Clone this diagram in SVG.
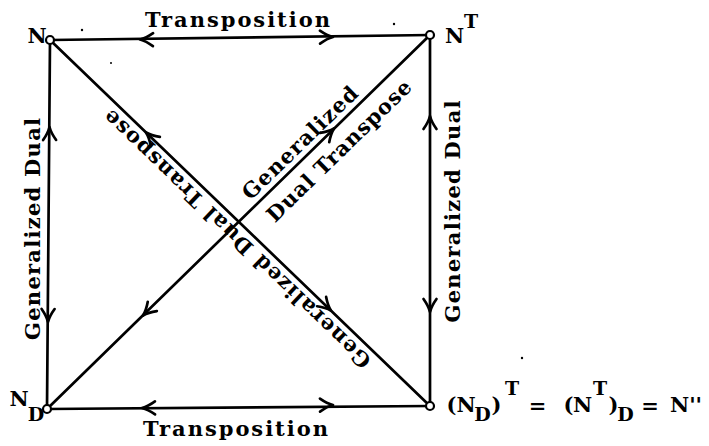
<svg xmlns="http://www.w3.org/2000/svg" width="709" height="446" viewBox="0 0 709 446">
<style>
.t{font-family:"DejaVu Serif","Liberation Serif",serif;font-weight:bold;font-size:21px;fill:#000}
.s{font-family:"DejaVu Serif","Liberation Serif",serif;font-weight:bold;font-size:19px;fill:#000}
.c{text-anchor:middle}
.ln{stroke:#000;stroke-width:2.7;fill:none;stroke-linecap:round}
.ah{stroke:#000;stroke-width:2.7;fill:none;stroke-linecap:round;stroke-linejoin:round}
.nd{fill:#fff;stroke:#000;stroke-width:2.2}
</style>
<defs>
<path id="ah" d="M-13,-6.5 Q-6,-1.5 0,0 Q-6,1.5 -13,6.5"/>
</defs>
<rect width="709" height="446" fill="#fff"/>
<g id="connectors">
<path class="ln" d="M50,40 L430,35"/>
<path class="ln" d="M47,409 L430,406"/>
<path class="ln" d="M50,40 L47,409"/>
<path class="ln" d="M430,35 L430,406"/>
<path class="ln" d="M50,40 L430,406"/>
<path class="ln" d="M430,35 L47,409"/>
<g class="ah">
<use href="#ah" transform="translate(140,39.5) rotate(180.8)"/>
<use href="#ah" transform="translate(333,37) rotate(-0.8)"/>
<use href="#ah" transform="translate(142,408) rotate(179.5)"/>
<use href="#ah" transform="translate(333,405) rotate(-0.5)"/>
<use href="#ah" transform="translate(49.5,127) rotate(-90.5)"/>
<use href="#ah" transform="translate(48,322) rotate(90.5)"/>
<use href="#ah" transform="translate(430,116) rotate(-90)"/>
<use href="#ah" transform="translate(430,312) rotate(90)"/>
<use href="#ah" transform="translate(334,128.5) rotate(-44.3)"/>
<use href="#ah" transform="translate(143,315.5) rotate(135.7)"/>
<use href="#ah" transform="translate(146,132.5) rotate(223.9)"/>
<use href="#ah" transform="translate(331,310.6) rotate(43.9)"/>
</g>
<text class="t c" x="237.5" y="27" textLength="185">Transposition</text>
<text class="t c" x="235.5" y="436" textLength="185">Transposition</text>
<text class="t c" transform="translate(40,229) rotate(-90)" textLength="222">Generalized Dual</text>
<text class="t c" transform="translate(460,211.5) rotate(-90)" textLength="222">Generalized Dual</text>
<text class="t c" transform="translate(305,148) rotate(-44.3)" textLength="152">Generalized</text>
<text class="t c" transform="translate(344,156) rotate(-44.3)" textLength="193">Dual Transpose</text>
<text class="t c" transform="translate(242,234) rotate(223.9)" textLength="362">Generalized Dual Transpose</text>
</g>
<g id="node-N">
<circle class="nd" cx="50" cy="40" r="4"/>
<text class="t c" x="37" y="43">N</text>
</g>
<g id="node-NT">
<circle class="nd" cx="430" cy="35" r="4"/>
<text class="t c" x="454.5" y="43">N</text>
<text class="s c" x="471" y="28">T</text>
</g>
<g id="node-ND">
<circle class="nd" cx="47" cy="409" r="4"/>
<text class="t c" x="19" y="406">N</text>
<text class="s c" x="36" y="421">D</text>
</g>
<g id="node-N2">
<circle class="nd" cx="430" cy="406" r="4"/>
<text class="t c" x="451.5" y="412">(</text>
<text class="t c" x="466" y="412">N</text>
<text class="s c" x="482.5" y="421">D</text>
<text class="t c" x="496.5" y="412">)</text>
<text class="s c" x="512" y="395">T</text>
<text class="t c" x="537.5" y="413">=</text>
<text class="t c" x="568.5" y="412">(</text>
<text class="t c" x="582.5" y="412">N</text>
<text class="s c" x="600" y="395">T</text>
<text class="t c" x="613.5" y="412">)</text>
<text class="s c" x="625.5" y="421">D</text>
<text class="t c" x="650" y="413">=</text>
<text class="t" x="670" y="412">N''</text>
</g>
<g id="specks" fill="#000">
<circle cx="82" cy="30" r="1.2"/>
<circle cx="111" cy="63" r="1"/>
<circle cx="394" cy="24" r="1.2"/>
<circle cx="522" cy="358" r="1.2"/>
</g>
</svg>
